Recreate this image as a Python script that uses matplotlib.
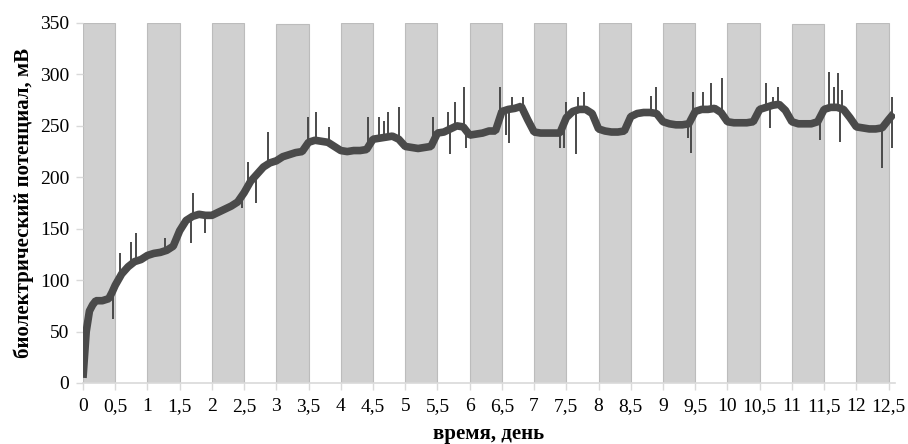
import numpy as np
import matplotlib
matplotlib.use('Agg')
import matplotlib.pyplot as plt

plt.rcParams['font.family'] = ['Liberation Serif', 'DejaVu Serif']

# Night periods (shaded columns): start of each half-day, height of column
night_start = [0, 1, 2, 3, 4, 5, 6, 7, 8, 9, 10, 11, 12]
night_height = [350, 350, 350, 349, 350, 350, 350, 350, 350, 350, 350, 349, 350]

# Biopotential baseline, read every 0.1 day (mV)
t_base = [0.0, 0.05, 0.1, 0.15, 0.2, 0.3, 0.4, 0.45, 0.5, 0.6, 0.7, 0.8, 0.9,
          1.0, 1.1, 1.2, 1.3, 1.4, 1.5, 1.6, 1.7, 1.8, 1.9,
          2.0, 2.1, 2.2, 2.3, 2.4, 2.5, 2.6, 2.7, 2.8, 2.9,
          3.0, 3.1, 3.2, 3.3, 3.4, 3.5, 3.6, 3.7, 3.8, 3.9,
          4.0, 4.1, 4.2, 4.3, 4.4, 4.5, 4.6, 4.7, 4.8, 4.9,
          5.0, 5.1, 5.2, 5.3, 5.4, 5.5, 5.6, 5.7, 5.8, 5.9,
          6.0, 6.1, 6.2, 6.3, 6.4, 6.5, 6.6, 6.7, 6.8, 6.9,
          7.0, 7.1, 7.2, 7.3, 7.4, 7.5, 7.6, 7.7, 7.8, 7.9,
          8.0, 8.1, 8.2, 8.3, 8.4, 8.5, 8.6, 8.7, 8.8, 8.9,
          9.0, 9.1, 9.2, 9.3, 9.4, 9.5, 9.6, 9.7, 9.8, 9.9,
          10.0, 10.1, 10.2, 10.3, 10.4, 10.5, 10.6, 10.7, 10.8, 10.9,
          11.0, 11.1, 11.2, 11.3, 11.4, 11.5, 11.6, 11.7, 11.8, 11.9,
          12.0, 12.1, 12.2, 12.3, 12.4, 12.5, 12.58]
v_base = [5, 50, 70, 76, 80, 80, 82, 88, 95, 106, 113, 118, 120,
          124, 126, 127, 129, 133, 148, 158, 162, 164, 163,
          163, 166, 169, 172, 176, 185, 196, 203, 210, 214,
          216, 220, 222, 224, 225, 234, 236, 235, 234, 230,
          226, 225, 226, 226, 227, 237, 238, 239, 240, 237,
          230, 229, 228, 229, 230, 243, 244, 247, 250, 249,
          241, 242, 243, 245, 245, 264, 266, 267, 269, 256,
          244, 243, 243, 243, 243, 258, 264, 266, 266, 262,
          247, 245, 244, 244, 245, 259, 262, 263, 263, 262,
          254, 252, 251, 251, 252, 264, 266, 266, 267, 263,
          254, 253, 253, 253, 254, 266, 268, 270, 271, 265,
          254, 252, 252, 252, 254, 266, 268, 268, 266, 258,
          249, 248, 247, 247, 248, 256, 262]

# Short spikes in the record (day, mV)
t_spike = [0.47, 0.57, 0.74, 0.82, 1.27, 1.45, 1.68, 1.70, 1.89, 2.46, 2.56,
           2.69, 2.87, 3.49, 3.62, 3.81, 4.42, 4.60, 4.67, 4.73, 4.91,
           5.43, 5.66, 5.69, 5.77, 5.91, 5.95, 6.47, 6.56, 6.61, 6.66, 6.82,
           7.40, 7.47, 7.50, 7.65, 7.68, 7.77, 8.82, 8.89, 9.39, 9.44, 9.46,
           9.62, 9.75, 9.91, 10.60, 10.66, 10.70, 10.79, 11.43, 11.57, 11.66,
           11.71, 11.74, 11.77, 12.40, 12.55, 12.56]
v_spike = [62, 126, 137, 146, 141, 133, 136, 185, 146, 170, 215,
           175, 244, 259, 263, 249, 259, 259, 255, 263, 268,
           259, 263, 223, 273, 288, 228, 288, 241, 233, 278, 278,
           228, 228, 273, 223, 278, 283, 279, 288, 238, 224, 283,
           283, 292, 297, 292, 248, 278, 288, 236, 302, 288,
           301, 234, 285, 209, 228, 278]

x_ticks = np.arange(0, 13, 0.5)
y_ticks = [0, 50, 100, 150, 200, 250, 300, 350]

fig = plt.figure(figsize=(9.08, 4.44), dpi=100)
ax = fig.add_axes([0.0914, 0.1374, 0.8943, 0.8108])

ax.bar(night_start, night_height, width=0.5, align='edge', color='#d0d0d0',
       edgecolor='#bcbcbc', linewidth=0.8, zorder=1)

line_color = '#4a4a4a'
ax.plot(t_base, v_base, color=line_color, linewidth=5.5,
        solid_joinstyle='bevel', solid_capstyle='butt', zorder=3)
base_at_spike = np.interp(t_spike, t_base, v_base)
ax.vlines(t_spike, base_at_spike, v_spike, color=line_color, linewidth=1.4, zorder=3)

ax.set_xlim(0, 12.6)
ax.set_ylim(0, 350)
ax.set_xticks(x_ticks)
ax.set_xticklabels([('%g' % x).replace('.', ',') for x in x_ticks])
ax.set_yticks(y_ticks)
ax.tick_params(axis='both', labelsize=14, colors='#d9d9d9', labelcolor='black',
               length=5, width=1)
ax.tick_params(axis='x', pad=6)
ax.tick_params(axis='y', pad=5)

for side in ['top', 'right', 'left']:
    ax.spines[side].set_visible(False)
ax.spines['bottom'].set_color('#d9d9d9')
ax.spines['bottom'].set_linewidth(1.2)

ax.set_xlabel('время, день', fontsize=15, fontweight='bold', labelpad=6)
ax.set_ylabel('биолектрический потенциал, мВ', fontsize=15, fontweight='bold', labelpad=4)

fig.savefig('out.png', dpi=100)
